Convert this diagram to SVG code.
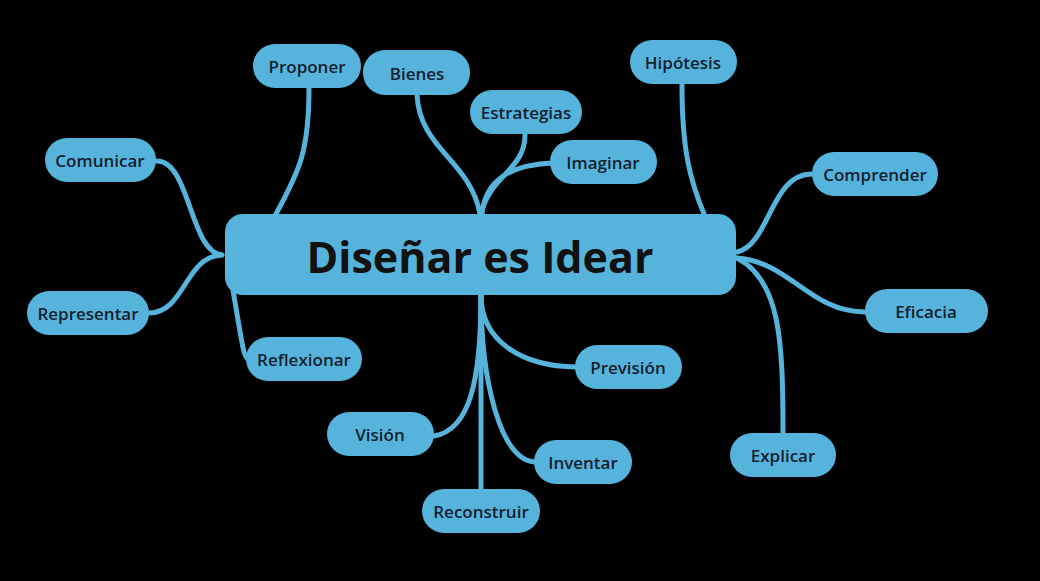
<svg xmlns="http://www.w3.org/2000/svg" width="1040" height="581" viewBox="0 0 1040 581">
<style>
.n{fill:#56b4dc}
.t{font-family:"Open Sans","Noto Sans",sans-serif;font-weight:600;font-size:17px;fill:#14202e;text-anchor:middle;dominant-baseline:central}
.c{fill:none;stroke:#56b4dc;stroke-width:5;stroke-linecap:round}
.big{font-family:"Open Sans","Noto Sans",sans-serif;font-weight:700;font-size:43px;fill:#111;text-anchor:middle;dominant-baseline:central}
</style>
<rect width="1040" height="581" fill="#000"/>
<g id="connectors">
<path class="c" d="M157,161 C190,161 190,252 222,255"/>
<path class="c" d="M149,313 C185,313 185,256 222,255"/>
<path class="c" d="M309,88 C309,150 300,170 276,214"/>
<path class="c" d="M417,95 C420,150 470,160 480,214"/>
<path class="c" d="M525,135 C525,170 490,175 481,214"/>
<path class="c" d="M552,163 C510,165 485,180 482,214"/>
<path class="c" d="M682,85 C682,150 690,180 704,214"/>
<path class="c" d="M812,174 C770,174 770,245 737,252"/>
<path class="c" d="M865,312 C810,312 790,262 737,258"/>
<path class="c" d="M783,433 C783,340 780,280 737,258"/>
<path class="c" d="M233,290 C238,320 242,345 244,352 C246,358 248,360 250,360"/>
<path class="c" d="M481,295 C481,340 520,366 576,367"/>
<path class="c" d="M481,295 C481,380 470,430 434,436"/>
<path class="c" d="M481,295 L481,490"/>
<path class="c" d="M481,295 C481,380 500,460 535,462"/>
</g>
<g id="center"><rect class="n" x="225" y="214" width="511" height="81" rx="18"/><text class="big" x="480" y="256">Diseñar es Idear</text></g>
<g id="proponer"><rect class="n" x="253" y="44" width="108" height="44" rx="22"/><text class="t" x="307" y="66">Proponer</text></g>
<g id="bienes"><rect class="n" x="363" y="50" width="107" height="45" rx="22"/><text class="t" x="417" y="73">Bienes</text></g>
<g id="estrategias"><rect class="n" x="470" y="90" width="112" height="44" rx="22"/><text class="t" x="526" y="112">Estrategias</text></g>
<g id="imaginar"><rect class="n" x="550" y="140" width="107" height="44" rx="22"/><text class="t" x="603" y="162">Imaginar</text></g>
<g id="hipotesis"><rect class="n" x="630" y="40" width="107" height="44" rx="22"/><text class="t" x="683" y="62">Hipótesis</text></g>
<g id="comunicar"><rect class="n" x="45" y="138" width="111" height="44" rx="22"/><text class="t" x="100" y="160">Comunicar</text></g>
<g id="comprender"><rect class="n" x="812" y="152" width="126" height="44" rx="22"/><text class="t" x="875" y="174">Comprender</text></g>
<g id="eficacia"><rect class="n" x="865" y="289" width="123" height="44" rx="22"/><text class="t" x="926" y="311">Eficacia</text></g>
<g id="representar"><rect class="n" x="27" y="291" width="122" height="44" rx="22"/><text class="t" x="88" y="313">Representar</text></g>
<g id="reflexionar"><rect class="n" x="246" y="337" width="116" height="44" rx="22"/><text class="t" x="304" y="359">Reflexionar</text></g>
<g id="prevision"><rect class="n" x="575" y="345" width="107" height="44" rx="22"/><text class="t" x="628" y="367">Previsión</text></g>
<g id="vision"><rect class="n" x="327" y="412" width="107" height="44" rx="22"/><text class="t" x="380" y="434">Visión</text></g>
<g id="inventar"><rect class="n" x="534" y="440" width="98" height="44" rx="22"/><text class="t" x="583" y="462">Inventar</text></g>
<g id="explicar"><rect class="n" x="730" y="433" width="106" height="44" rx="22"/><text class="t" x="783" y="455">Explicar</text></g>
<g id="reconstruir"><rect class="n" x="422" y="489" width="118" height="44" rx="22"/><text class="t" x="481" y="511">Reconstruir</text></g>
</svg>
